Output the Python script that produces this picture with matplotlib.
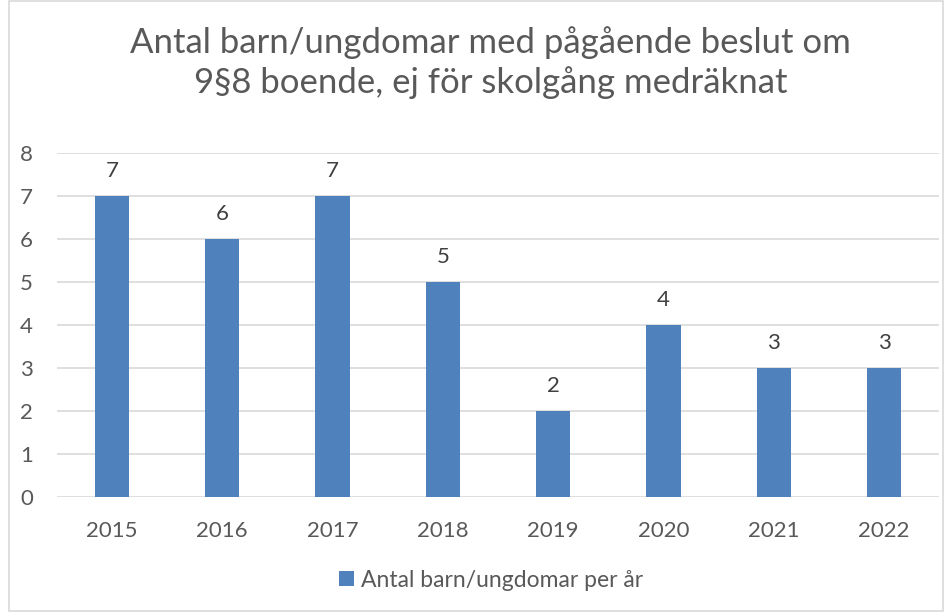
import matplotlib.pyplot as plt
from matplotlib.patches import Rectangle

years = ['2015', '2016', '2017', '2018', '2019', '2020', '2021', '2022']
counts = [7, 6, 7, 5, 2, 4, 3, 3]
series_label = 'Antal barn/ungdomar per år'
title = 'Antal barn/ungdomar med pågående beslut om\n9§8 boende, ej för skolgång medräknat'

bar_color = '#4F81BD'
text_color = '#595959'
grid_color = '#D9D9D9'

plt.rcParams['font.family'] = ['Lato', 'DejaVu Sans']

fig = plt.figure(figsize=(9.44, 6.12), dpi=100)
ax = fig.add_axes([0.060, 0.188, 0.935, 0.562])

x = range(len(years))
bars = ax.bar(x, counts, width=0.31, color=bar_color, label=series_label, zorder=3)
ax.bar_label(bars, padding=11, fontsize=16, color='#404040')

ax.set_xlim(-0.5, len(years) - 0.5)
ax.set_ylim(0, 8)
ax.set_yticks(range(0, 9))
ax.set_xticks(list(x))
ax.set_xticklabels(years)
ax.tick_params(axis='both', length=0, labelsize=16, labelcolor=text_color)
ax.tick_params(axis='x', pad=17)
ax.tick_params(axis='y', pad=17)
ax.grid(axis='y', color=grid_color, linewidth=1.2, zorder=0)
for s in ax.spines.values():
    s.set_visible(False)

fig.suptitle(title, x=0.52, y=0.958, va='top', fontsize=25, color=text_color, linespacing=1.28)

fig.legend(loc='center', bbox_to_anchor=(0.52, 0.052), frameon=False, fontsize=16.5,
           labelcolor=text_color, handlelength=0.65, handleheight=0.65, handletextpad=0.3)

# light frame around the chart area
fig.patches.append(Rectangle((9 / 944, 0.001), 1 - 10 / 944, 0.997, transform=fig.transFigure,
                             fill=False, edgecolor='#D9D9D9', linewidth=1.2))

fig.savefig('out.png', dpi=100)
